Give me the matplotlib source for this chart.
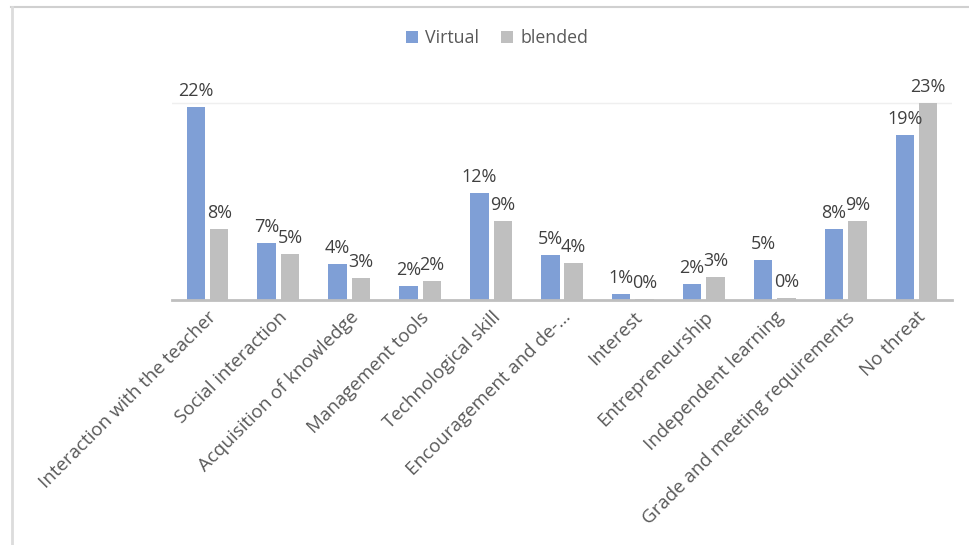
import matplotlib
matplotlib.use("Agg")
import matplotlib.pyplot as plt
from matplotlib.lines import Line2D
import numpy as np

plt.rcParams['font.family'] = ['Open Sans', 'DejaVu Sans']

categories = ["Interaction with the teacher", "Social interaction", "Acquisition of knowledge",
              "Management tools", "Technological skill", "Encouragement and de-...",
              "Interest", "Entrepreneurship", "Independent learning",
              "Grade and meeting requirements", "No threat"]
virtual = [22.4, 6.6, 4.2, 1.6, 12.4, 5.2, 0.66, 1.9, 4.6, 8.3, 19.2]
blended = [8.3, 5.35, 2.6, 2.25, 9.2, 4.3, 0.1, 2.7, 0.25, 9.15, 22.9]
series_names = ["Virtual", "blended"]

blue = "#7F9FD6"
gray = "#BFBFBF"
text_col = "#595959"

W, H = 970, 545
fig = plt.figure(figsize=(W/100, H/100), dpi=100)
ax = fig.add_axes([172/W, (H-300)/H, 780/W, 215/H])

x = np.arange(len(categories))
bw = 0.26
gap = 0.035
b1 = ax.bar(x - bw/2 - gap, virtual, width=bw, color=blue, label=series_names[0], zorder=2)
b2 = ax.bar(x + bw/2 + gap, blended, width=bw, color=gray, label=series_names[1], zorder=2)

for bars, vals in ((b1, virtual), (b2, blended)):
    for rect, v in zip(bars, vals):
        ax.annotate(f"{round(v):d}%", (rect.get_x() + rect.get_width()/2, v),
                    xytext=(0, 5), textcoords="offset points", ha="center", va="bottom",
                    fontsize=13, color="#404040")

ax.set_xlim(-0.5, len(categories) - 0.5)
ax.set_ylim(0, 25)
ax.axhline(max(blended), color="#EFEFEF", lw=1, zorder=1)
for s in ["top", "right", "left"]:
    ax.spines[s].set_visible(False)
ax.spines["bottom"].set_color(gray)
ax.spines["bottom"].set_linewidth(2)
ax.set_yticks([])
ax.set_xticks(x)
ax.set_xticklabels(categories, rotation=45, ha="right", rotation_mode="anchor",
                   fontsize=13.5, color=text_col)
ax.tick_params(axis="x", length=0, pad=6)

leg = fig.legend(handles=[b1, b2], loc="center", bbox_to_anchor=(497/W, 1 - 38/H), ncol=2,
                 frameon=False, fontsize=12.8, handlelength=0.7, handleheight=0.7,
                 handletextpad=0.4, columnspacing=1.2)
for t in leg.get_texts():
    t.set_color(text_col)

# outer frame lines
fig.add_artist(Line2D([11/W, 1], [1 - 7/H, 1 - 7/H], transform=fig.transFigure, color="#D0D0D0", lw=1.5))
fig.add_artist(Line2D([12/W, 12/W], [0, 1 - 7/H], transform=fig.transFigure, color="#DCDCDC", lw=2))

fig.savefig("out.png", dpi=100, facecolor="white")
